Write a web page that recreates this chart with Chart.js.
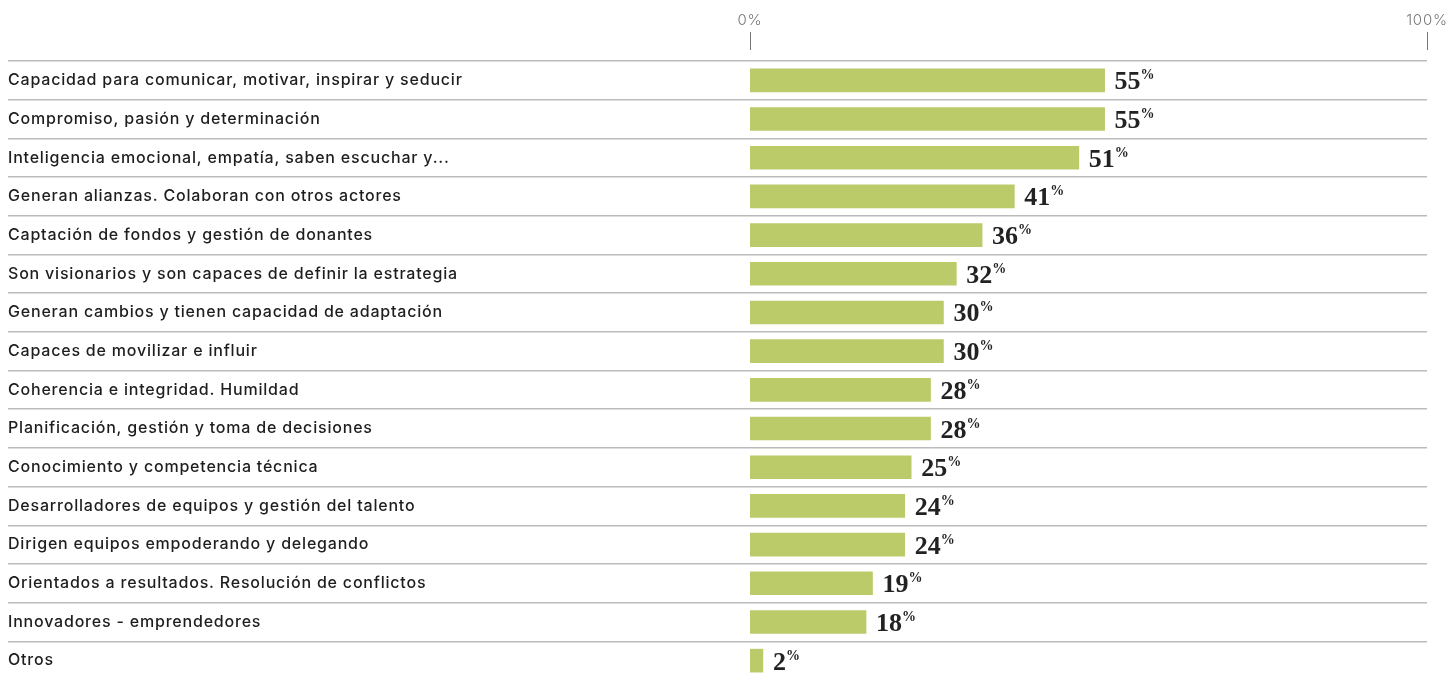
<!DOCTYPE html>
<html lang="es">
<head>
    <meta charset="UTF-8">
    <title>Competencias</title>
    <style>
        body {
            margin: 0;
            background: #fff;
            overflow: hidden;
        }
        canvas {
            display: block;
        }
    </style>
</head>
<body>
    <canvas id="chart" width="1451" height="681"></canvas>
    <script src="https://cdn.jsdelivr.net/npm/chart.js"></script>
    <script>
        const categories = [
            'Capacidad para comunicar, motivar, inspirar y seducir',
            'Compromiso, pasión y determinación',
            'Inteligencia emocional, empatía, saben escuchar y...',
            'Generan alianzas. Colaboran con otros actores',
            'Captación de fondos y gestión de donantes',
            'Son visionarios y son capaces de definir la estrategia',
            'Generan cambios y tienen capacidad de adaptación',
            'Capaces de movilizar e influir',
            'Coherencia e integridad. Humildad',
            'Planificación, gestión y toma de decisiones',
            'Conocimiento y competencia técnica',
            'Desarrolladores de equipos y gestión del talento',
            'Dirigen equipos empoderando y delegando',
            'Orientados a resultados. Resolución de conflictos',
            'Innovadores - emprendedores',
            'Otros'
        ];
        const values = [55, 55, 51, 41, 36, 32, 30, 30, 28, 28, 25, 24, 24, 19, 18, 2];
        const axisTicks = [0, 100];

        // the reference font is wider than Inter, so space the letters a bit
        const spacing = {
            id: 'spacing',
            beforeDraw(chart) {
                chart.ctx.letterSpacing = '0.8px';
            }
        };

        const valueLabels = {
            id: 'valueLabels',
            afterDatasetsDraw(chart) {
                const ctx = chart.ctx;
                const meta = chart.getDatasetMeta(0);
                ctx.save();
                ctx.letterSpacing = '0px';
                ctx.fillStyle = '#222';
                ctx.textAlign = 'left';
                ctx.textBaseline = 'alphabetic';
                meta.data.forEach((bar, i) => {
                    const num = String(values[i]);
                    const x = bar.x + 10;
                    const y = bar.y + 9;
                    ctx.font = 'bold 26px "Liberation Serif"';
                    ctx.fillText(num, x, y);
                    const w = ctx.measureText(num).width;
                    ctx.font = 'bold 14px "Liberation Serif"';
                    ctx.fillText('%', x + w, y - 10);
                });
                ctx.restore();
            }
        };

        new Chart(document.getElementById('chart'), {
            type: 'bar',
            data: {
                labels: categories,
                datasets: [{
                    data: values,
                    backgroundColor: '#bccb6a',
                    barThickness: 23,
                    xAxisID: 'x'
                }]
            },
            options: {
                indexAxis: 'y',
                responsive: false,
                animation: false,
                layout: { padding: { left: 8, right: 24, top: 0, bottom: 1 } },
                plugins: {
                    legend: { display: false },
                    tooltip: { enabled: false }
                },
                scales: {
                    x: {
                        display: false,
                        min: 0,
                        max: 105
                    },
                    x2: {
                        axis: 'x',
                        type: 'linear',
                        position: 'top',
                        min: 0,
                        max: 100,
                        afterBuildTicks: s => { s.ticks = axisTicks.map(v => ({ value: v })); },
                        afterFit: s => { s.height = 61; },
                        border: { display: false },
                        grid: {
                            drawOnChartArea: false,
                            tickLength: 29,
                            tickColor: '#777',
                            tickWidth: 1,
                            tickBorderDash: [18, 40]
                        },
                        ticks: {
                            padding: 3,
                            maxRotation: 0,
                            color: '#777',
                            font: { family: 'Inter', size: 15, weight: 300 },
                            callback: v => v + '%'
                        }
                    },
                    y: {
                        afterFit: s => {
                            s.width = 742;
                            s.paddingTop = 0;
                            s.paddingBottom = 0;
                        },
                        border: { display: false },
                        grid: {
                            offset: true,
                            color: '#bbb',
                            lineWidth: 1.5,
                            tickLength: 742,
                            tickColor: '#bbb'
                        },
                        ticks: {
                            crossAlign: 'far',
                            padding: 0,
                            color: '#1e1e1e',
                            font: { family: 'Inter', size: 16, weight: 500 }
                        }
                    }
                }
            },
            plugins: [spacing, valueLabels]
        });
    </script>
</body>
</html>
